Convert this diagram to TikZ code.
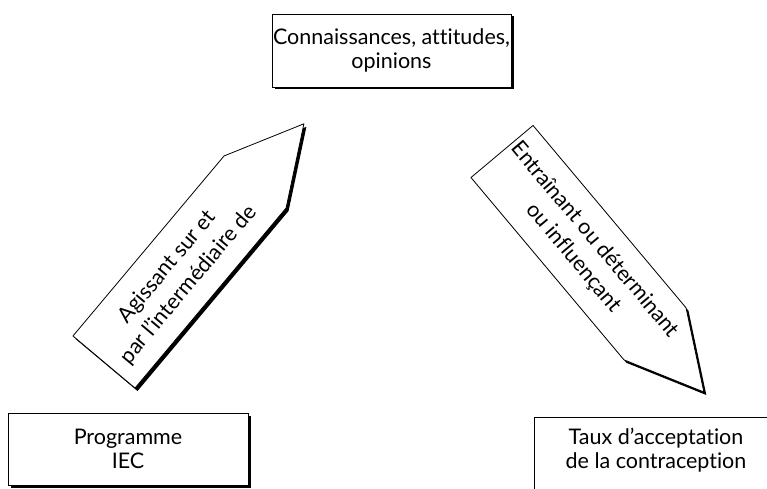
\documentclass[tikz,border=0pt]{standalone}
\usepackage{fontspec}
\setmainfont{Lato}[Ligatures={TeX,NoCommon}]
\usetikzlibrary{shadows}

\begin{document}
\begin{tikzpicture}
[
    x=1pt, y=1pt,
    every node/.style={font=\fontsize{21.5}{24}\selectfont, align=center},
    box/.style={draw, line width=0.8pt, fill=white, inner sep=0pt,
        general shadow={fill=black, shadow xshift=2.5pt, shadow yshift=-2.5pt}},
    pointer/.style={draw, line width=0.8pt, fill=white, line join=round,
        general shadow={fill=black, shadow xshift=2.5pt, shadow yshift=-3pt}},
    slanted/.style={font=\fontsize{21.5}{28}\selectfont},
]
\useasboundingbox (0,0) rectangle (767,488);
\node [box, minimum width=239, minimum height=73] (savoir) at (391.5,437.5)
{Connaissances, attitudes,\\opinions};
\node [box, minimum width=240, minimum height=72] (iec) at (128,39)
{Programme\\IEC};
\node [box, minimum width=244, minimum height=84, anchor=north] (taux) at (656,71) {};
\node (tauxtext) at ([yshift=9]taux.center) {Taux d’acceptation\\de la contraception};
% left pointer, towards the top box
\draw [pointer] (135.02,99.97) -- (286.08,279.98) -- (303.9,364.2)
    -- (224.04,332.04) -- (72.98,152.03) -- cycle;
\node [slanted, rotate=50] (agit) at (178,212) {Agissant sur et\\par l’intermédiaire de};
% right pointer, towards the right box
\draw [pointer] (533.02,362.53) -- (470.98,310.47) -- (623.97,128.16)
    -- (703.84,95.98) -- (686.01,180.22) -- cycle;
\node [slanted, rotate=-50] (entraine) at (584,239) {Entraînant ou déterminant\\ou influençant};
\end{tikzpicture}
\end{document}
